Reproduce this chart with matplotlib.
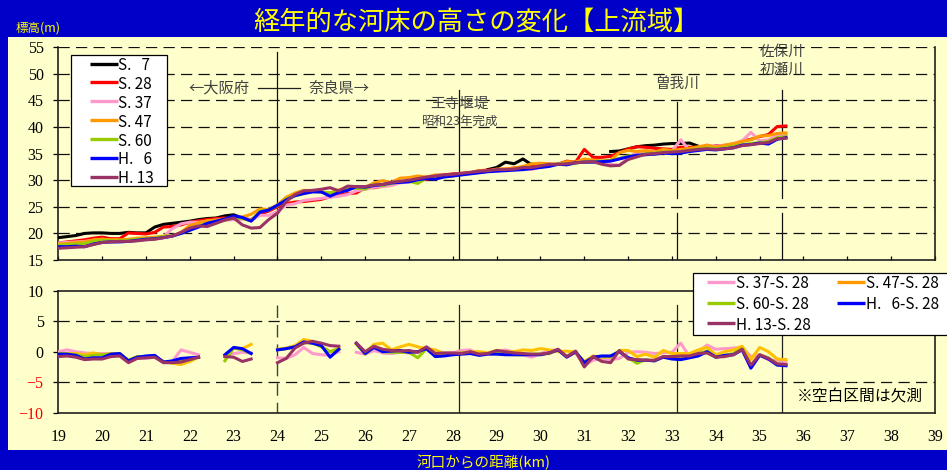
import numpy as np
import matplotlib
matplotlib.use("Agg")
import matplotlib.pyplot as plt
from matplotlib.lines import Line2D
from matplotlib.patches import Rectangle
from matplotlib.font_manager import FontProperties

plt.rcParams['font.family'] = ['Noto Sans CJK JP', 'DejaVu Sans']

nan = np.nan

# Cross-section positions (km from river mouth), every 200 m
KM = np.round(np.arange(190, 357, 2) / 10, 1)

# River-bed elevation (m) by survey year
S7 = [19.2, 19.4, 19.6, 20.0, 20.1, 20.1, 20.0, 20.0, 20.2, 20.1,
      20.1, 21.2, 21.7, 21.9, 22.1, 22.3, 22.6, 22.8, 22.9, 23.3,
      23.5, 22.9, nan, nan, nan, nan, nan, nan, nan, nan,
      nan, nan, nan, nan, nan, nan, nan, nan, nan, nan,
      nan, nan, nan, nan, nan, nan, nan, nan, nan, 32.0,
      32.4, 33.4, 33.1, 34.0, 32.9, nan, nan, nan, nan, nan,
      nan, nan, nan, 35.4, 35.5, 35.9, 36.3, 36.5, 36.6, 36.8,
      36.9, 36.9, 37.0, 36.4, nan, nan, nan, nan, nan, nan,
      nan, nan, nan, nan]
S28 = [18.2, 18.4, 18.6, 18.8, 19.1, 19.3, 19.0, 19.0, 20.1, 20.0,
       19.9, 20.2, 21.2, 21.3, 21.6, 22.1, 22.4, 22.6, 22.8, 22.9,
       22.8, 22.8, 22.6, 23.6, 24.2, 25.0, 25.6, 25.9, 26.0, 26.2,
       26.4, 26.9, 27.2, 27.5, 27.6, 28.6, 28.6, 28.9, 29.3, 29.7,
       29.8, 30.3, 30.1, 30.9, 31.0, 31.2, 31.3, 31.4, 31.8, 31.9,
       32.0, 32.1, 32.3, 32.4, 32.6, 32.9, 32.9, 33.0, 33.6, 33.4,
       35.8, 34.3, 34.3, 34.5, 35.2, 35.9, 36.3, 36.2, 36.0, 35.9,
       35.8, 36.2, 36.2, 36.2, 36.0, 36.5, 36.5, 36.6, 37.4, 37.7,
       38.2, 38.6, 40.1, 40.2]
S37 = [18.2, 18.3, 18.4, 18.5, 18.7, 18.9, 18.7, 18.7, 18.6, 18.8,
       18.8, 19.0, 19.4, 20.9, 21.8, 22.1, 22.1, 22.3, 22.5, 22.5,
       22.6, 22.7, 22.5, 23.4, 23.4, 24.1, 25.3, 25.6, 26.2, 26.4,
       26.6, 26.8, 27.0, 27.3, 28.0, 28.3, 28.7, 28.8, 29.0, 29.5,
       29.7, 30.0, 30.5, 30.5, 30.8, 31.0, 31.3, 31.4, 31.5, 31.7,
       31.9, 32.1, 32.0, 32.1, 32.0, 32.5, 32.8, 33.0, 33.0, 33.2,
       33.6, 33.6, 33.2, 33.0, 32.8, 34.2, 35.3, 35.4, 35.3, 35.4,
       35.5, 37.6, 35.6, 36.0, 36.6, 36.4, 36.6, 36.8, 37.4, 39.0,
       37.4, 37.6, 38.4, 38.6]
S47 = [18.0, 18.1, 18.3, 18.4, 18.8, 18.9, 18.8, 18.8, 18.9, 19.1,
       19.2, 19.3, 19.5, 19.5, 20.2, 21.5, 22.0, 22.4, 22.5, 22.7,
       23.0, 23.1, 23.6, 24.6, 24.5, 25.4, 26.8, 27.6, 28.1, 28.0,
       27.8, 27.6, 28.2, 28.5, 28.8, 28.6, 29.5, 29.9, 29.6, 30.4,
       30.5, 30.8, 30.6, 31.0, 30.8, 30.8, 31.2, 31.4, 31.8, 31.7,
       32.1, 32.1, 32.3, 32.6, 33.1, 33.2, 33.1, 33.0, 33.5, 33.4,
       34.0, 33.8, 33.6, 33.8, 35.2, 35.6, 35.4, 35.6, 35.3, 35.8,
       35.6, 35.8, 36.0, 36.3, 36.6, 36.2, 36.6, 36.9, 37.3, 37.6,
       38.3, 38.4, 38.8, 38.9]
S60 = [17.8, 17.9, 18.0, 18.1, 18.5, 18.7, 18.6, 18.6, 18.7, 18.9,
       19.0, 19.1, 19.4, 19.6, 20.0, 20.6, 21.4, 21.9, 22.2, 22.5,
       22.9, 22.8, 22.4, 24.2, 24.4, 25.2, 26.5, 27.1, 27.5, 27.9,
       27.8, 27.6, 28.0, 28.4, 28.5, 28.3, 29.2, 29.0, 29.4, 29.7,
       29.8, 29.4, 30.4, 30.5, 30.9, 30.9, 31.2, 31.3, 31.5, 31.7,
       31.9, 32.0, 32.0, 32.2, 32.3, 32.6, 32.7, 33.1, 33.0, 33.2,
       33.5, 33.5, 33.6, 33.7, 34.1, 34.6, 34.6, 35.0, 35.1, 35.3,
       35.3, 35.4, 35.6, 35.9, 36.1, 35.9, 36.1, 36.4, 36.7, 36.9,
       37.1, 37.3, 38.0, 38.2]
H6 = [17.5, 17.5, 17.6, 17.5, 18.0, 18.3, 18.4, 18.4, 18.5, 18.7,
      18.9, 19.0, 19.2, 19.5, 20.0, 20.6, 21.2, 21.9, 22.3, 22.7,
      23.3, 23.0, 22.3, 24.0, 24.4, 25.3, 26.3, 27.1, 27.5, 27.8,
      27.8, 27.0, 27.7, 28.1, 28.8, 28.7, 29.0, 29.2, 29.5, 29.6,
      29.7, 30.1, 30.3, 30.2, 30.6, 30.8, 31.0, 31.2, 31.4, 31.6,
      31.7, 31.8, 31.9, 32.0, 32.2, 32.4, 32.6, 33.0, 32.9, 33.3,
      33.4, 33.4, 33.5, 33.6, 34.0, 34.4, 34.7, 34.8, 34.9, 35.1,
      35.0, 35.1, 35.4, 35.6, 35.8, 35.7, 35.9, 36.1, 36.6, 36.7,
      37.0, 36.8, 37.7, 38.0]
H13 = [17.2, 17.3, 17.4, 17.5, 17.9, 18.3, 18.4, 18.5, 18.5, 18.6,
       18.8, 18.9, 19.2, 19.5, 20.2, 21.0, 21.4, 21.3, 21.9, 22.5,
       22.9, 21.6, 21.0, 21.1, 22.6, 23.8, 26.0, 27.3, 28.0, 28.1,
       28.3, 28.6, 28.0, 28.9, 28.8, 28.8, 29.1, 29.2, 29.6, 29.8,
       30.0, 30.3, 30.6, 30.8, 31.0, 31.1, 31.3, 31.5, 31.7, 31.8,
       32.0, 32.0, 32.1, 32.4, 32.4, 32.7, 33.0, 33.0, 33.1, 33.3,
       33.4, 33.5, 33.0, 32.7, 32.8, 33.9, 34.4, 34.9, 35.0, 35.2,
       35.3, 35.4, 35.6, 35.8, 35.9, 35.8, 35.9, 36.1, 36.5, 36.7,
       36.9, 37.1, 37.8, 37.9]

# Change relative to the S.28 survey (m); nan = not surveyed
D37 = [0.0, 0.3, 0.0, -0.2, -0.3, -0.3, -0.3, -0.3, -1.5, -1.1,
       -1.1, -0.9, -1.8, -1.6, 0.3, -0.1, -0.5, nan, nan, -0.6,
       -0.3, -0.1, -0.2, nan, nan, -1.0, -1.1, -0.5, 0.7, -0.3,
       -0.5, -0.6, 0.0, nan, -0.1, -0.4, 0.2, -0.2, -0.3, -0.1,
       -0.2, -0.1, 0.4, -0.5, -0.3, -0.2, 0.2, 0.3, -0.5, -0.3,
       0.0, 0.3, -0.1, -0.5, -0.9, -0.3, 0.2, 0.3, -0.8, -0.2,
       -2.2, -1.4, -1.1, -1.3, -1.1, -0.1, 0.0, -0.1, -0.3, -0.2,
       -0.1, 1.4, -0.8, 0.0, 1.1, 0.4, 0.5, 0.6, 0.7, -0.8,
       -0.5, -1.3, -1.5, -1.6]
D47 = [-0.3, -0.3, -0.3, -0.5, -0.2, -0.5, -0.3, -0.3, -1.4, -0.8,
       -0.8, -0.9, -1.6, -1.9, -2.1, -1.6, -0.9, nan, nan, -0.8,
       0.6, 0.5, 1.2, nan, nan, 0.4, 0.6, 1.0, 2.0, 1.7,
       0.9, 0.0, 0.6, nan, 1.2, -0.2, 1.2, 1.4, 0.3, 0.8,
       1.2, 0.8, 0.5, 0.3, -0.3, -0.5, -0.2, 0.0, 0.0, -0.2,
       0.2, 0.0, 0.0, 0.3, 0.2, 0.5, 0.3, 0.0, 0.1, -0.1,
       -1.6, -0.7, -0.9, -0.9, 0.2, 0.2, -0.8, -0.4, -0.9, 0.2,
       -0.3, -0.3, -0.3, 0.3, 0.7, -0.5, 0.0, 0.3, 0.9, -1.3,
       0.7, 0.0, -1.2, -1.3]
D60 = [-0.3, -0.4, -0.5, -0.8, -0.6, -0.5, -0.4, -0.3, -1.4, -0.8,
       -0.8, -0.9, -1.6, -1.7, -1.4, -1.3, -0.9, nan, nan, -1.5,
       0.6, 0.3, -0.3, nan, nan, 0.3, 0.5, 0.8, 1.5, 1.4,
       0.8, 0.0, 0.4, nan, 1.3, -0.4, 0.8, 0.0, -0.1, -0.1,
       -0.1, -1.0, 0.5, -0.7, -0.3, -0.4, -0.2, -0.2, -0.4, -0.3,
       -0.2, -0.4, -0.5, -0.5, -0.4, -0.4, -0.3, 0.3, -0.8, 0.0,
       -1.9, -0.9, -0.8, -0.8, 0.1, -1.0, -1.9, -1.3, -1.5, -0.8,
       -0.8, -1.0, -0.8, -0.3, 0.1, -0.9, -0.6, -0.3, 0.5, -2.4,
       -0.5, -1.0, -2.0, -2.2]
D6 = [-0.4, -0.4, -0.6, -1.2, -1.0, -1.0, -0.4, -0.3, -1.5, -0.9,
      -0.7, -0.6, -1.7, -1.5, -1.1, -1.0, -0.9, nan, nan, -0.5,
      0.7, 0.5, -0.3, nan, nan, 0.3, 0.5, 0.8, 1.6, 1.4,
      1.0, -0.9, 0.4, nan, 1.4, -0.3, 0.7, 0.0, 0.1, 0.2,
      -0.1, 0.0, 0.5, -0.8, -0.7, -0.5, -0.4, -0.3, -0.6, -0.4,
      -0.4, -0.5, -0.5, -0.5, -0.5, -0.5, -0.2, 0.3, -0.9, 0.0,
      -1.8, -0.9, -0.7, -0.7, 0.0, -1.0, -1.4, -1.4, -1.5, -0.9,
      -1.2, -1.3, -1.0, -0.7, 0.0, -0.9, -0.6, -0.5, 0.3, -2.7,
      -0.6, -1.2, -2.2, -2.3]
D13 = [-0.8, -0.7, -0.9, -1.3, -1.2, -1.2, -0.8, -0.7, -1.8, -1.1,
       -1.0, -0.9, -1.8, -1.8, -1.7, -1.3, -0.9, nan, nan, -0.8,
       -0.9, -1.6, -1.2, nan, nan, -1.8, -1.1, 0.6, 1.4, 1.7,
       1.4, 1.0, 0.9, nan, 1.4, 0.0, 0.9, 0.4, 0.2, 0.1,
       0.2, -0.1, 0.8, -0.3, -0.2, -0.2, -0.3, 0.0, -0.4, -0.3,
       0.2, 0.0, -0.2, -0.3, -0.4, -0.4, -0.2, 0.4, -0.8, 0.1,
       -2.5, -0.8, -1.6, -1.8, 0.2, -1.2, -1.3, -1.4, -1.4, -0.8,
       -0.8, -0.7, -0.7, -0.3, -0.2, -0.9, -0.8, -0.5, 0.4, -2.2,
       -0.5, -1.1, -2.0, -2.1]

ELEV_SERIES = [
    ("S.   7", S7, "#000000"),
    ("S. 28", S28, "#FF0000"),
    ("S. 37", S37, "#FF99CC"),
    ("S. 47", S47, "#FF9900"),
    ("S. 60", S60, "#99CC00"),
    ("H.   6", H6, "#0000FF"),
    ("H. 13", H13, "#993366"),
]
# label, data, line colour, key colour
DIFF_SERIES = [
    ("S. 37-S. 28", D37, "#FF99CC", "#FF99CC"),
    ("S. 47-S. 28", D47, "#FFC000", "#FF9900"),
    ("S. 60-S. 28", D60, "#99CC00", "#99CC00"),
    ("H.   6-S. 28", D6, "#0000FF", "#0000FF"),
    ("H. 13-S. 28", D13, "#993366", "#993366"),
]

Y_TICKS_TOP = list(range(15, 56, 5))
Y_TICKS_BOT = list(range(-10, 11, 5))
X_TICKS = list(range(19, 40))

W, H = 947, 470
BLUE = "#0000C8"
YEL = "#FFFF00"


def fx(px):
    return px / W


def fy(py):
    return 1 - py / H


fig = plt.figure(figsize=(W / 100, H / 100), dpi=100)
fig.patch.set_facecolor(BLUE)
fig.patches.append(Rectangle((fx(8), fy(450)), fx(947) - fx(8), fy(37) - fy(450),
                             transform=fig.transFigure, facecolor="#FFFFCC",
                             edgecolor="none", zorder=0))

rect_top = [fx(58.3), fy(260), fx(935) - fx(58.3), fy(47.3) - fy(260)]
rect_bot = [fx(58.3), fy(412.7), fx(935) - fx(58.3), fy(290.7) - fy(412.7)]


def shaded_background(rect):
    bg = fig.add_axes(rect, zorder=-5)
    bg.set_axis_off()
    u = np.linspace(0, 1, 300)
    v = np.linspace(0, 1, 150)
    U, V = np.meshgrid(u, v)
    t = (U + V) / 2
    w = np.clip(1 - np.abs(t - 0.55) / 0.55, 0, 1) ** 0.6
    yellow = np.array([1.0, 1.0, 0.78])
    img = yellow + (1 - yellow) * w[..., None]
    bg.imshow(img, extent=(0, 1, 0, 1), aspect="auto", interpolation="bilinear")
    bg.set_xlim(0, 1)
    bg.set_ylim(0, 1)


shaded_background(rect_top)
shaded_background(rect_bot)

ax_t = fig.add_axes(rect_top, zorder=1)
ax_b = fig.add_axes(rect_bot, zorder=1)
for ax in (ax_t, ax_b):
    ax.patch.set_visible(False)
    ax.set_xlim(19, 39)
    ax.set_xticks(X_TICKS)
    for s in ("left", "right", "bottom", "top"):
        ax.spines[s].set_linewidth(1.2)
        ax.spines[s].set_color("#202020")

serif = FontProperties(family="Liberation Serif", size=11.5)
dash = (0, (9, 5))

# ---------- upper panel: bed elevation ----------
ax_t.set_ylim(15, 55)
ax_t.set_yticks(Y_TICKS_TOP)
ax_t.spines["top"].set_visible(False)
for yv in Y_TICKS_TOP[1:]:
    ax_t.axhline(yv, color="#101010", lw=0.9, ls=dash, zorder=1)

ax_t.plot([24, 24], [54.1, 15], color="#101010", lw=0.9, zorder=1)
ax_t.plot([28.15, 28.15], [47.0, 15], color="#101010", lw=0.9, zorder=1)
for xv, ytop in ((33.12, 44.75), (35.5, 47.0)):
    ax_t.plot([xv, xv], [ytop, 26.6], color="#101010", lw=0.9, zorder=1)
    ax_t.plot([xv, xv], [23.8, 15], color="#101010", lw=0.9, zorder=1)

for label, vals, col in ELEV_SERIES:
    ax_t.plot(KM, vals, color=col, lw=2.2, zorder=3)

ax_t.tick_params(axis="x", direction="in", length=3, width=0.9, labelbottom=False)
ax_t.tick_params(axis="y", direction="out", length=3.6, width=0.9, pad=7)
for lab in ax_t.get_yticklabels():
    lab.set_fontproperties(serif)

note_col = "#404040"
ax_t.text(23.37, 47.3, "←大阪府", ha="right", va="center", fontsize=11, color=note_col)
ax_t.text(24.72, 47.3, "奈良県→", ha="left", va="center", fontsize=11, color=note_col)
ax_t.plot([23.55, 24.51], [47.3, 47.3], color="#202020", lw=0.9, zorder=2)
ax_t.text(28.15, 44.3, "王寺堰堤", ha="center", va="center", fontsize=10.5, color=note_col)
ax_t.text(28.15, 41.1, "昭和23年完成", ha="center", va="center", fontsize=9, color=note_col)
ax_t.text(33.12, 48.1, "曽我川", ha="center", va="center", fontsize=10.5, color=note_col)
ax_t.text(35.5, 54.1, "佐保川", ha="center", va="center", fontsize=10.5, color=note_col)
ax_t.text(35.5, 50.7, "初瀬川", ha="center", va="center", fontsize=10.5, color=note_col)

# ---------- lower panel: change from S.28 ----------
ax_b.set_ylim(-10, 10)
ax_b.set_yticks(Y_TICKS_BOT)
for yv in (5, -5):
    ax_b.axhline(yv, color="#101010", lw=0.9, ls=dash, zorder=1)

ax_b.plot([24, 24], [7.7, -10], color="#404040", lw=1.0, ls=dash, zorder=1)
for xv in (28.15, 33.12, 35.5):
    ax_b.plot([xv, xv], [7.7, -10], color="#202020", lw=0.9, zorder=1)

for label, vals, col, _ in DIFF_SERIES:
    ax_b.plot(KM, vals, color=col, lw=2.2, zorder=3)

ax_b.tick_params(axis="x", length=0, pad=12)
ax_b.tick_params(axis="y", direction="out", length=3.6, width=0.9, pad=7)
for lab in ax_b.get_xticklabels() + ax_b.get_yticklabels():
    lab.set_fontproperties(serif)
for lab, yv in zip(ax_b.get_yticklabels(), Y_TICKS_BOT):
    lab.set_color("#FF0000" if yv < 0 else "#000000")

# zero line with its own tick marks
axz = ax_b.twiny()
axz.set_zorder(0)
axz.patch.set_visible(False)
axz.set_xlim(19, 39)
for s in ("top", "left", "right"):
    axz.spines[s].set_visible(False)
axz.spines["bottom"].set_position(("data", 0))
axz.spines["bottom"].set_color("#505050")
axz.spines["bottom"].set_linewidth(1.2)
axz.xaxis.set_ticks_position("bottom")
axz.set_xticks(X_TICKS)
axz.tick_params(axis="x", direction="inout", length=7, width=0.9, color="#202020",
                labelbottom=False, labeltop=False)


# ---------- keys (laid out in figure pixels) ----------
def key_box(x0, y0, x1, y1):
    fig.add_artist(Rectangle((fx(x0), fy(y1)), fx(x1) - fx(x0), fy(y0) - fy(y1),
                             transform=fig.transFigure, facecolor="white",
                             edgecolor="#000000", lw=0.9, zorder=10))


def key_entry(x, y, color, text, size=11):
    fig.add_artist(Line2D([fx(x), fx(x + 28)], [fy(y), fy(y)], color=color, lw=2.4,
                          solid_capstyle="butt", transform=fig.transFigure, zorder=11))
    fig.text(fx(x + 28.5), fy(y), text, ha="left", va="center_baseline", fontsize=size,
             color="#000000", zorder=11)


key_box(70.7, 55, 167.3, 185.7)
for i, (label, _, col) in enumerate(ELEV_SERIES):
    key_entry(90, 63.5 + i * 18.9, col, label)

key_box(693, 273, 950, 335)
diff_pos = [(707, 281.7), (837, 281.7), (707, 302.7), (837, 302.7), (707, 323.3)]
for (x, y), (label, _, _, kc) in zip(diff_pos, DIFF_SERIES):
    key_entry(x, y, kc, label)

fig.text(fx(860), fy(397), "※空白区間は欠測", ha="center", va="center",
         fontsize=11.3, color="#000000")

# ---------- frame texts ----------
fig.text(fx(476), fy(22.5), "経年的な河床の高さの変化【上流域】", ha="center", va="center",
         fontsize=18.9, color=YEL)
fig.text(fx(16), fy(28), "標高(m)", ha="left", va="center", fontsize=9, color=YEL)
fig.text(fx(484), fy(462), "河口からの距離(km)", ha="center", va="center",
         fontsize=10.5, color=YEL)

fig.savefig("out.png", dpi=100, facecolor=fig.get_facecolor())
